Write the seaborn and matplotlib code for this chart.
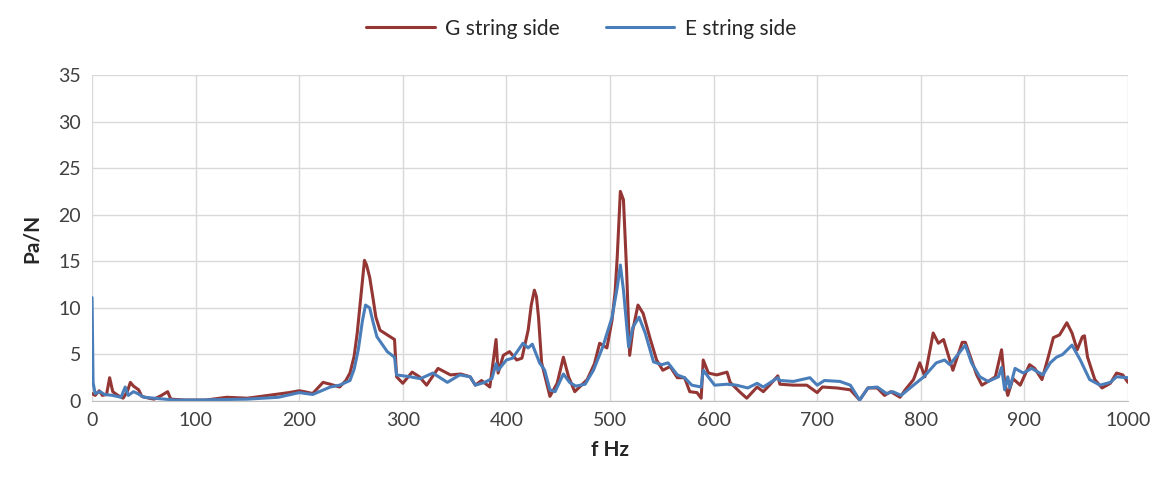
import matplotlib
matplotlib.use("Agg")
import matplotlib.pyplot as plt
import seaborn as sns
import pandas as pd

# G string side (red)
g_freq = [0, 3, 7, 10, 14, 17, 20, 25, 30, 34, 37, 40, 45, 48, 55, 60, 67, 73, 76, 90,
          110, 130, 150, 170, 190, 200, 205, 213, 223, 230, 239, 245, 249, 253, 256, 260, 263, 265, 268, 271,
          274, 278, 285, 292, 294, 300, 309, 316, 323, 334, 346, 356, 365, 370, 376, 384, 390, 392, 397,
          403, 410, 415, 421, 424, 427, 429, 431, 434, 442, 449, 455, 460, 466, 478, 485, 490, 497, 502,
          505, 507, 510, 513, 516, 519, 522, 527, 532, 539, 545, 551, 558, 565, 572, 577, 584,
          588, 590, 595, 603, 613, 616, 625, 632, 642, 648, 654, 662, 664, 677, 690, 700,
          705, 719, 732, 741, 749, 758, 765, 771, 780, 785, 793, 799, 804, 812, 817, 822,
          825, 831, 840, 843, 849, 854, 859, 865, 872, 878, 881, 884, 889, 896, 905, 910,
          917, 923, 928, 934, 941, 946, 951, 956, 958, 961, 968, 975, 983, 989, 995, 1000]
g_vals = [0.8, 0.6, 1.1, 0.6, 0.7, 2.5, 1.0, 0.6, 0.3, 1.0, 2.0, 1.6, 1.2, 0.5, 0.3, 0.2, 0.6, 1.0, 0.2, 0.1,
          0.1, 0.4, 0.3, 0.6, 0.9, 1.1, 1.0, 0.8, 2.0, 1.8, 1.5, 2.2, 3.0, 4.8, 7.3, 11.8, 15.1, 14.6, 13.3, 11.2,
          9.0, 7.6, 7.1, 6.6, 2.6, 1.9, 3.1, 2.6, 1.7, 3.5, 2.8, 2.9, 2.6, 1.7, 2.2, 1.5, 6.6, 3.0, 4.9,
          5.3, 4.4, 4.6, 7.6, 10.3, 11.9, 11.2, 9.0, 4.1, 0.5, 1.9, 4.7, 2.6, 1.0, 2.3, 4.0, 6.2, 5.7, 8.7,
          11.8, 15.5, 22.5, 21.6, 14.1, 4.9, 7.6, 10.3, 9.4, 6.6, 4.4, 3.3, 3.7, 2.5, 2.5, 1.0, 0.9,
          0.3, 4.4, 3.0, 2.8, 3.1, 2.0, 1.0, 0.3, 1.5, 1.0, 1.7, 2.7, 1.8, 1.7, 1.7, 0.9,
          1.5, 1.4, 1.2, 0.1, 1.4, 1.4, 0.6, 1.0, 0.4, 1.2, 2.3, 4.1, 2.6, 7.3, 6.2, 6.6,
          5.5, 3.3, 6.3, 6.3, 4.4, 2.8, 1.7, 2.1, 2.6, 5.5, 2.0, 0.6, 2.4, 1.7, 3.9, 3.5,
          2.3, 4.7, 6.8, 7.1, 8.4, 7.3, 5.5, 6.9, 7.0, 4.7, 2.3, 1.4, 1.9, 3.0, 2.8, 2.0]

# E string side (blue)
e_freq = [0, 1, 3, 8, 12, 20, 28, 32, 35, 40, 44, 50, 60, 80, 100, 150, 180, 200, 213, 230,
          239, 249, 253, 257, 261, 264, 268, 271, 275, 285, 292, 294, 307, 317, 329, 343, 355, 365, 370,
          379, 386, 390, 392, 400, 406, 416, 421, 425, 432, 437, 442, 447, 455, 461, 467,
          476, 484, 493, 502, 507, 510, 513, 518, 522, 528, 534, 542, 550, 556, 565, 572,
          579, 588, 590, 601, 613, 622, 633, 642, 648, 662, 664, 677, 693, 700, 707, 722,
          732, 741, 749, 758, 767, 773, 781, 793, 803, 815, 823, 828, 843, 849, 857, 865,
          875, 878, 881, 884, 886, 891, 899, 907, 918, 925, 931, 937, 946, 954, 963, 973,
          983, 989, 1000]
e_vals = [11.1, 2.0, 0.8, 1.0, 0.7, 0.6, 0.4, 1.5, 0.6, 1.0, 0.8, 0.4, 0.3, 0.1, 0.1, 0.2, 0.4, 0.9, 0.7, 1.5,
          1.7, 2.2, 3.4, 5.5, 8.6, 10.3, 10.0, 8.6, 6.9, 5.3, 4.7, 2.8, 2.6, 2.4, 3.0, 2.0, 2.8, 2.6, 1.7,
          2.0, 2.4, 4.0, 3.3, 4.4, 4.6, 6.2, 5.7, 6.1, 4.1, 3.3, 1.2, 1.0, 2.9, 2.0, 1.6,
          1.8, 3.3, 5.8, 9.0, 12.2, 14.6, 11.9, 5.8, 7.9, 9.0, 7.3, 4.2, 3.9, 4.1, 2.8, 2.5,
          1.7, 1.5, 3.3, 1.7, 1.8, 1.7, 1.4, 1.9, 1.5, 2.5, 2.2, 2.1, 2.5, 1.7, 2.2, 2.1,
          1.7, 0.1, 1.4, 1.5, 0.8, 1.0, 0.6, 1.7, 2.6, 4.1, 4.4, 3.9, 6.0, 4.1, 2.6, 2.1,
          2.6, 3.6, 1.2, 2.6, 1.4, 3.5, 3.0, 3.5, 2.8, 4.1, 4.7, 5.0, 6.0, 4.4, 2.3, 1.7,
          2.0, 2.6, 2.5]

series = ["G string side", "E string side"]
colors = ["#943634", "#4a7ebb"]

df = pd.concat([
    pd.DataFrame({"f": g_freq, "val": g_vals, "side": series[0]}),
    pd.DataFrame({"f": e_freq, "val": e_vals, "side": series[1]}),
])

sns.set_style("white")
plt.rcParams["font.family"] = ["Lato", "DejaVu Sans"]

fig = plt.figure(figsize=(11.62, 4.84), dpi=100)
ax = fig.add_axes([0.0792, 0.1715, 0.8915, 0.6735])

sns.lineplot(data=df, x="f", y="val", hue="side", hue_order=series,
             palette=colors, estimator=None, sort=False, linewidth=2.2, ax=ax)

ax.set_xlim(0, 1000)
ax.set_ylim(0, 35)
ax.set_xticks(range(0, 1001, 100))
ax.set_yticks(range(0, 36, 5))
ax.grid(True, color="#d9d9d9", linewidth=1)
ax.set_axisbelow(True)
for s in ["top", "right", "left"]:
    ax.spines[s].set_visible(False)
ax.spines["bottom"].set_color("#bfbfbf")
ax.tick_params(axis="both", length=0, labelsize=14, colors="#404040", pad=8)

ax.set_xlabel("f Hz", fontsize=15, fontweight="bold", labelpad=8)
ax.set_ylabel("Pa/N", fontsize=15, fontweight="bold", labelpad=12)

handles, labels = ax.get_legend_handles_labels()
ax.get_legend().remove()
fig.legend(handles, labels, loc="upper center", bbox_to_anchor=(0.5, 1.0),
           ncol=2, frameon=False, fontsize=15, handlelength=3.3,
           handletextpad=0.5, columnspacing=2.2)

fig.savefig("out.png", dpi=100)
